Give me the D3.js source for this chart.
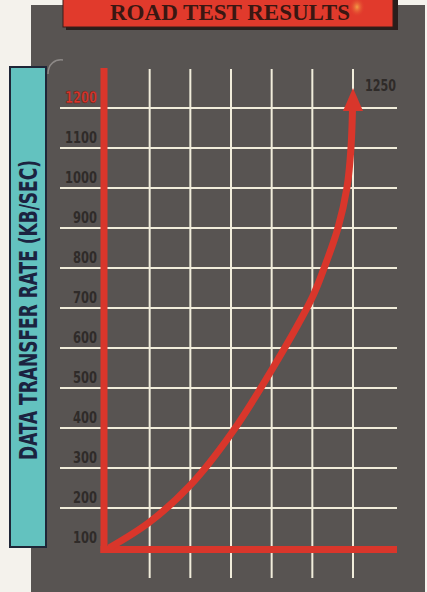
<!DOCTYPE html>
<html>
<head>
<meta charset="utf-8">
<script src="https://cdn.jsdelivr.net/npm/d3@7/dist/d3.min.js"></script>
<style>
  html, body { margin: 0; padding: 0; background: #f4f2ec; }
  svg { display: block; }
</style>
</head>
<body>
<script>
// Road test: data transfer rate climbing along the test run
const testSteps = [0, 1, 2, 3, 4, 5, 5.29, 5.63, 5.85, 5.95, 6];
const transferRates = [100, 165, 257, 385, 545, 727, 800, 900, 1000, 1100, 1250];
const rateTicks = [100, 200, 300, 400, 500, 600, 700, 800, 900, 1000, 1100, 1200];
const stepGrid = [1, 2, 3, 4, 5, 6];
const peakLabel = "1250";
const titleText = "ROAD TEST RESULTS";
const axisTitle = "DATA TRANSFER RATE (KB/SEC)";

const W = 427, H = 592;
const RED = "#d9362b";
const GRID = "#f1eddb";
const LABEL = "#2f2b29";
const NARROW = "'Liberation Sans Narrow', 'DejaVu Sans Condensed', sans-serif";

const svg = d3.select("body").append("svg")
  .attr("width", W).attr("height", H);

const x = d3.scaleLinear().domain([0, 6]).range([109, 353]);
const y = d3.scaleLinear().domain([100, 1200]).range([548, 108]);

// dark panel
svg.append("rect").attr("x", 31).attr("y", 5).attr("width", 394).attr("height", H - 5)
  .attr("fill", "#585452");

// title banner with drop shadow
svg.append("rect").attr("x", 66).attr("y", -4).attr("width", 332).attr("height", 34)
  .attr("fill", "#2a1e1c");
svg.append("rect").attr("x", 63).attr("y", -4).attr("width", 330).attr("height", 31)
  .attr("fill", "#e13a2c").attr("stroke", "#3a1c18").attr("stroke-width", 1);
const glow = svg.append("defs").append("radialGradient").attr("id", "glow");
glow.append("stop").attr("offset", "0%").attr("stop-color", "#f6b04a").attr("stop-opacity", 0.85);
glow.append("stop").attr("offset", "100%").attr("stop-color", "#e13a2c").attr("stop-opacity", 0);
svg.append("ellipse").attr("cx", 357).attr("cy", 7).attr("rx", 8).attr("ry", 10)
  .attr("fill", "url(#glow)");
svg.append("text")
  .attr("x", 230).attr("y", 20)
  .attr("text-anchor", "middle")
  .attr("textLength", 240).attr("lengthAdjust", "spacingAndGlyphs")
  .attr("font-family", "'Liberation Serif', 'DejaVu Serif', serif")
  .attr("font-weight", "bold").attr("font-size", 24)
  .attr("fill", "#3a1712")
  .text(titleText);

// axis title box
svg.append("rect").attr("x", 10).attr("y", 67).attr("width", 36).attr("height", 480)
  .attr("fill", "#63c2bf").attr("stroke", "#1f2637").attr("stroke-width", 2);
svg.append("text")
  .attr("transform", "translate(37,310) rotate(-90)")
  .attr("text-anchor", "middle")
  .attr("textLength", 300).attr("lengthAdjust", "spacingAndGlyphs")
  .attr("font-family", NARROW)
  .attr("font-weight", "bold").attr("font-size", 25)
  .attr("fill", "#1b2340")
  .text(axisTitle);

// small hook ornament above the box
svg.append("path").attr("d", "M48,74 C48,64 55,59 63,60")
  .attr("fill", "none").attr("stroke", "#8d8987").attr("stroke-width", 1.5);

// horizontal grid
const gridLeft = 60, gridRight = 397;
svg.append("g").selectAll("line")
  .data(rateTicks.filter(d => d > 100))
  .join("line")
  .attr("x1", gridLeft).attr("x2", gridRight)
  .attr("y1", d => y(d)).attr("y2", d => y(d))
  .attr("stroke", GRID).attr("stroke-width", 2);

// vertical grid
svg.append("g").selectAll("line")
  .data(stepGrid)
  .join("line")
  .attr("x1", d => x(d)).attr("x2", d => x(d))
  .attr("y1", y(1200) - 39).attr("y2", y(100) + 30)
  .attr("stroke", GRID).attr("stroke-width", 2);

// rate labels
svg.append("g").selectAll("text")
  .data(rateTicks)
  .join("text")
  .attr("x", 97).attr("y", d => y(d) - 5)
  .attr("text-anchor", "end")
  .attr("textLength", d => String(d).length * 8)
  .attr("lengthAdjust", "spacingAndGlyphs")
  .attr("font-family", NARROW)
  .attr("font-weight", "bold").attr("font-size", 15)
  .attr("fill", d => d === 1200 ? RED : LABEL)
  .attr("stroke", d => d === 1200 ? "#5a1a14" : "none")
  .attr("stroke-width", 0.4)
  .text(d => d);

// red axes
const axisX = x(0) - 5;
svg.append("line")
  .attr("x1", axisX).attr("x2", axisX)
  .attr("y1", y(1200) - 40).attr("y2", y(100) + 5)
  .attr("stroke", RED).attr("stroke-width", 7);
svg.append("line")
  .attr("x1", axisX - 3.5).attr("x2", gridRight)
  .attr("y1", y(100) + 1.5).attr("y2", y(100) + 1.5)
  .attr("stroke", RED).attr("stroke-width", 7);

// rate curve, cut below the arrowhead
const pts = testSteps.map((s, i) => [x(s), y(transferRates[i])]);
const tip = pts[pts.length - 1];
const headLen = 23, headHalf = 10;
svg.append("defs").append("clipPath").attr("id", "belowHead")
  .append("rect").attr("x", 0).attr("y", tip[1] + headLen - 1)
  .attr("width", W).attr("height", H);
svg.append("path")
  .attr("d", d3.line().curve(d3.curveCatmullRom.alpha(0.5))(pts))
  .attr("fill", "none").attr("stroke", RED).attr("stroke-width", 7)
  .attr("clip-path", "url(#belowHead)");
svg.append("path")
  .attr("d", `M${tip[0]},${tip[1]} L${tip[0] + headHalf},${tip[1] + headLen} L${tip[0] - headHalf},${tip[1] + headLen} Z`)
  .attr("fill", RED);

// peak value
svg.append("text")
  .attr("x", tip[0] + 12).attr("y", tip[1] + 3)
  .attr("textLength", 31).attr("lengthAdjust", "spacingAndGlyphs")
  .attr("font-family", NARROW)
  .attr("font-weight", "bold").attr("font-size", 15)
  .attr("fill", LABEL)
  .text(peakLabel);
</script>
</body>
</html>
